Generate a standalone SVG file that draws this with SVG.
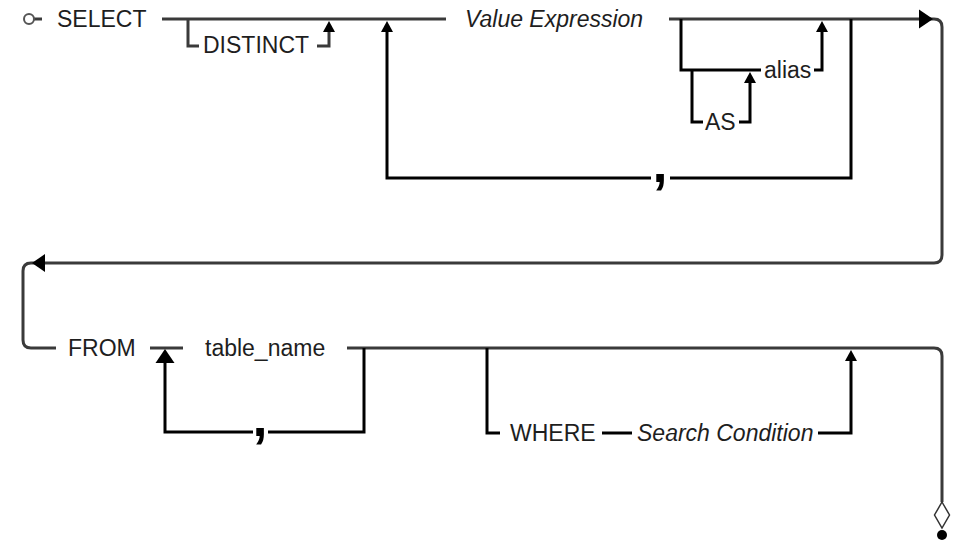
<svg xmlns="http://www.w3.org/2000/svg" xmlns:xlink="http://www.w3.org/1999/xlink" width="955" height="542" viewBox="0 0 955 542">
  <style>
    .bg { fill: #ffffff; }
    .main { fill: none; stroke: #3a3a3a; stroke-width: 3; stroke-linecap: butt; stroke-linejoin: miter; }
    .br { fill: none; stroke: #000000; stroke-width: 3; stroke-linecap: butt; stroke-linejoin: miter; }
    .ah { fill: #000000; }
    .t { font-family: "Liberation Sans", Arial, sans-serif; font-size: 23px; fill: #1e1e1e; }
    .it { font-style: italic; }
    .cm { font-family: "Liberation Sans", Arial, sans-serif; font-size: 54px; font-weight: bold; fill: #000; text-anchor: middle; }
  </style>
  <defs>
    <path id="upS" d="M0,0 L6,11 L-6,11 Z"/>
    <path id="upL" d="M0,0 L9.5,14 L-9.5,14 Z"/>
    <path id="rightA" d="M0,0 L-14,-9.5 L-14,9.5 Z"/>
    <path id="leftA" d="M0,0 L13,-9 L13,9 Z"/>
  </defs>
  <rect class="bg" x="0" y="0" width="955" height="542"/>

  <g id="connectors">
    <!-- row 1 main line -->
    <path class="main" d="M34,19 H42"/>
    <path class="main" d="M162,19 H446"/>
    <path class="main" d="M669,19 H921"/>
    <path class="main" d="M930,19 H934 Q942,19 942,27 V255 Q942,263 934,263 H43"/>
    <path class="main" d="M36,263 H31 Q23,263 23,271 V340 Q23,348 31,348 H56"/>
    <!-- DISTINCT bypass -->
    <path class="main" d="M188,19 V46 H199"/>
    <path class="main" d="M317,46 H329 V31"/>
    <!-- comma loop row 1 -->
    <path class="br" d="M387,32 V178 H651"/>
    <path class="br" d="M670,178 H851 V19"/>
    <!-- alias option -->
    <path class="br" d="M681,19 V70 H761"/>
    <path class="br" d="M814,70 H822 V32"/>
    <!-- AS option -->
    <path class="br" d="M692,70 V122 H703"/>
    <path class="br" d="M739,122 H750 V82"/>
    <!-- row 2 -->
    <path class="main" d="M150,348 H183"/>
    <path class="main" d="M347,348 H934 Q942,348 942,356 V502"/>
    <path class="br" d="M364,348 V432 H268"/>
    <path class="br" d="M253,432 H165 V362"/>
    <path class="br" d="M487,348 V433 H500"/>
    <path class="br" d="M602,433 H632"/>
    <path class="br" d="M818,433 H851 V360"/>
    <!-- arrowheads -->
    <use xlink:href="#upS" href="#upS" class="ah" x="329" y="21"/>
    <use xlink:href="#upS" href="#upS" class="ah" x="387" y="21"/>
    <use xlink:href="#upS" href="#upS" class="ah" x="822" y="21"/>
    <use xlink:href="#upS" href="#upS" class="ah" x="750" y="72"/>
    <use xlink:href="#upL" href="#upL" class="ah" x="165" y="349"/>
    <use xlink:href="#upS" href="#upS" class="ah" x="851" y="350"/>
    <use xlink:href="#rightA" href="#rightA" class="ah" x="933" y="19"/>
    <use xlink:href="#leftA" href="#leftA" class="ah" x="32" y="263"/>
  </g>

  <g id="start">
    <circle cx="29" cy="19" r="5" fill="#fff" stroke="#555" stroke-width="2"/>
  </g>
  <g id="select"><text class="t" x="57" y="27">SELECT</text></g>
  <g id="distinct"><text class="t" x="203" y="53">DISTINCT</text></g>
  <g id="value-expression"><text class="t it" x="465" y="27">Value Expression</text></g>
  <g id="alias"><text class="t" x="764" y="78">alias</text></g>
  <g id="as"><text class="t" x="705" y="130">AS</text></g>
  <g id="comma1"><text class="cm" x="660" y="182">,</text></g>
  <g id="from"><text class="t" x="68" y="356">FROM</text></g>
  <g id="table-name"><text class="t" x="205" y="356">table_name</text></g>
  <g id="comma2"><text class="cm" x="260" y="436">,</text></g>
  <g id="where"><text class="t" x="510" y="441">WHERE</text></g>
  <g id="search-condition"><text class="t it" x="637" y="441">Search Condition</text></g>
  <g id="end">
    <path d="M942,502 L949.5,515 L942,528 L934.5,515 Z" fill="#fff" stroke="#333" stroke-width="1.5"/>
    <circle cx="942" cy="535" r="5" fill="#000"/>
  </g>
</svg>
